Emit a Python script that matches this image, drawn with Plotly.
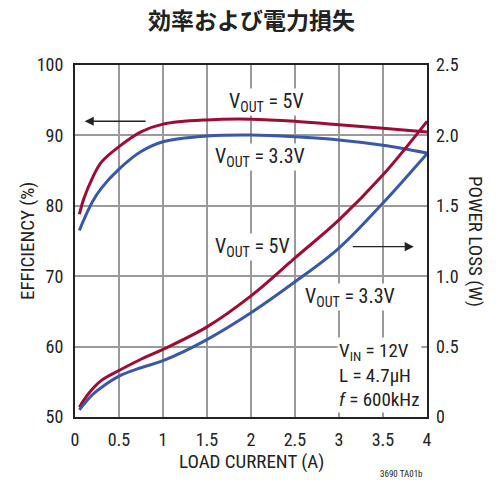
import plotly.graph_objects as go

# Load current (A) sample points
load_current = [0.05, 0.1, 0.2, 0.3, 0.5, 0.75, 1.0, 1.5, 2.0, 2.5, 3.0, 3.5, 4.0]

# Efficiency (%) for each output voltage
eff_5v = [78.8, 81.0, 84.0, 86.2, 88.4, 90.5, 91.6, 92.2, 92.3, 92.0, 91.5, 91.0, 90.5]
eff_3v3 = [76.5, 78.0, 80.6, 82.5, 85.2, 87.7, 89.1, 89.9, 90.05, 89.8, 89.35, 88.6, 87.5]

# Power loss (W) for each output voltage
loss_5v = [0.07, 0.12, 0.20, 0.26, 0.33, 0.41, 0.48, 0.64, 0.86, 1.13, 1.40, 1.72, 2.10]
loss_3v3 = [0.05, 0.09, 0.16, 0.21, 0.29, 0.35, 0.40, 0.55, 0.74, 0.96, 1.20, 1.52, 1.87]

x_ticks = [0, 0.5, 1, 1.5, 2, 2.5, 3, 3.5, 4]
x_labels = ["0", "0.5", "1", "1.5", "2", "2.5", "3", "3.5", "4"]
eff_ticks = [50, 60, 70, 80, 90, 100]
loss_ticks = [0, 0.5, 1.0, 1.5, 2.0, 2.5]
loss_labels = ["0", "0.5", "1.0", "1.5", "2.0", "2.5"]

RED = "#9E0B35"
BLUE = "#3A58A8"
GRID = "#9a9a9a"
INK = "#222"
NARROW = "Liberation Sans Narrow, Arial Narrow, Roboto Condensed, sans-serif"

fig = go.Figure()
fig.add_trace(go.Scatter(x=load_current, y=eff_5v, mode="lines",
                         line=dict(color=RED, width=3, shape="spline"), showlegend=False))
fig.add_trace(go.Scatter(x=load_current, y=eff_3v3, mode="lines",
                         line=dict(color=BLUE, width=3, shape="spline"), showlegend=False))
fig.add_trace(go.Scatter(x=load_current, y=loss_5v, mode="lines", yaxis="y2",
                         line=dict(color=RED, width=3, shape="spline"), showlegend=False))
fig.add_trace(go.Scatter(x=load_current, y=loss_3v3, mode="lines", yaxis="y2",
                         line=dict(color=BLUE, width=3, shape="spline"), showlegend=False))

tick_font = dict(family=NARROW, size=18, color=INK)
label_font = dict(family=NARROW, size=20, color=INK)
title_font = dict(family=NARROW, size=19, color=INK)

fig.update_layout(
    width=504, height=480,
    margin=dict(l=75, r=77, t=65, b=63),
    paper_bgcolor="white", plot_bgcolor="white",
    xaxis=dict(range=[0, 4], tickvals=x_ticks, ticktext=x_labels, ticks="",
               showgrid=True, gridcolor=GRID, gridwidth=1.5,
               showline=True, linecolor=INK, linewidth=2, mirror=True,
               zeroline=False, tickfont=tick_font, ticklabelstandoff=5),
    yaxis=dict(range=[50, 100], tickvals=eff_ticks, ticks="",
               showgrid=True, gridcolor=GRID, gridwidth=1.5,
               showline=True, linecolor=INK, linewidth=2, mirror=True,
               zeroline=False, tickfont=tick_font, ticklabelstandoff=6),
    yaxis2=dict(range=[0, 2.5], tickvals=loss_ticks, ticktext=loss_labels, ticks="",
                overlaying="y", side="right", showgrid=False, zeroline=False,
                showline=False, tickfont=tick_font, ticklabelstandoff=8),
)

annotations = [
    # Title
    dict(text="<b>効率および電力損失</b>", x=0.5, y=1.0, xref="paper", yref="paper",
         xanchor="center", yanchor="middle", showarrow=False, xshift=0, yshift=46,
         font=dict(family="Noto Sans CJK JP", size=23, color=INK)),
    # Axis titles
    dict(text="LOAD CURRENT (A)", x=0.5, y=0, xref="paper", yref="paper",
         xanchor="center", yanchor="middle", showarrow=False, yshift=-44,
         font=title_font),
    dict(text="EFFICIENCY (%)", x=0, y=0.5, xref="paper", yref="paper", textangle=-90,
         xanchor="center", yanchor="middle", showarrow=False, xshift=-48,
         font=title_font),
    dict(text="POWER LOSS (W)", x=1, y=0.5, xref="paper", yref="paper", textangle=90,
         xanchor="center", yanchor="middle", showarrow=False, xshift=49,
         font=title_font),
    # Curve labels
    dict(text="V<sub>OUT</sub> = 5V", x=2.18, y=94.8, xref="x", yref="y",
         showarrow=False, bgcolor="white", font=label_font, borderpad=0),
    dict(text="V<sub>OUT</sub> = 3.3V", x=2.1, y=87.0, xref="x", yref="y",
         showarrow=False, bgcolor="white", font=label_font, borderpad=0),
    dict(text="V<sub>OUT</sub> = 5V", x=2.02, y=1.21, xref="x", yref="y2",
         showarrow=False, bgcolor="white", font=label_font, borderpad=0),
    dict(text="V<sub>OUT</sub> = 3.3V", x=3.13, y=0.85, xref="x", yref="y2",
         showarrow=False, bgcolor="white", font=label_font, borderpad=0),
    # Operating conditions
    dict(text="V<sub>IN</sub> = 12V<br>L = 4.7μH<br><i>f</i> = 600kHz", x=2.98, y=0.03,
         xref="x", yref="y2", xanchor="left", yanchor="bottom", align="left",
         showarrow=False, bgcolor="white", font=dict(family=NARROW, size=19, color=INK),
         borderpad=1),
    # Axis pointer arrows
    dict(x=0.11, y=92.0, ax=0.82, ay=92.0, xref="x", yref="y", axref="x", ayref="y",
         showarrow=True, arrowhead=2, arrowsize=1.3, arrowwidth=1.4, arrowcolor=INK, text=""),
    dict(x=3.85, y=1.21, ax=3.14, ay=1.21, xref="x", yref="y2", axref="x", ayref="y2",
         showarrow=True, arrowhead=2, arrowsize=1.3, arrowwidth=1.4, arrowcolor=INK, text=""),
    # Figure code
    dict(text="3690 TA01b", x=1, y=0, xref="paper", yref="paper", xanchor="right",
         yanchor="middle", showarrow=False, yshift=-57, xshift=-2,
         font=dict(family=NARROW, size=9, color=INK)),
]
fig.update_layout(annotations=annotations)

fig.write_html("out.html")
